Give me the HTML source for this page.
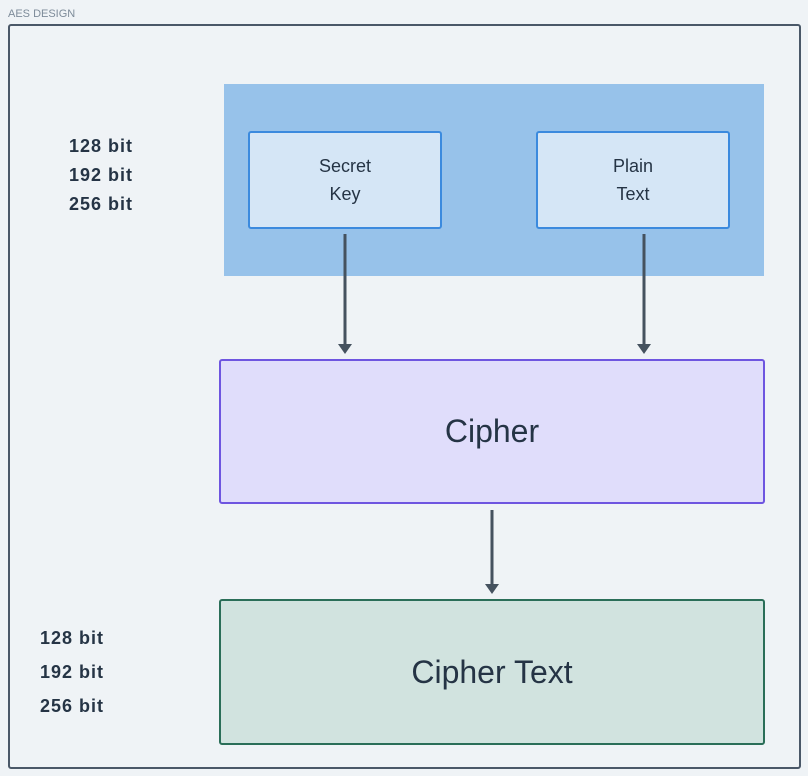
<!DOCTYPE html>
<html><head><style>
body{margin:0;width:808px;height:776px;background:#eff3f6;position:relative;overflow:hidden;font-family:"Liberation Sans","DejaVu Sans",sans-serif;color:#253445}
.a{position:absolute;box-sizing:border-box}
.t{display:flex;align-items:center;justify-content:center;text-align:center}
.bits{font-weight:bold;font-size:18px;line-height:29px;letter-spacing:1px}
</style></head><body>
<div class="a" style="left:8px;top:8px;font-size:11px;color:#7d8b99">AES DESIGN</div>
<div class="a" style="left:8px;top:24px;width:793px;height:745px;border:2px solid #4a5868;border-radius:3px"></div>
<div class="a" style="left:224px;top:84px;width:540px;height:192px;background:#97c2ea"></div>
<div class="a t" style="left:248px;top:131px;width:194px;height:98px;background:#d5e6f6;border:2px solid #3b8ade;border-radius:3px;font-size:18px;line-height:28px">Secret<br>Key</div>
<div class="a t" style="left:536px;top:131px;width:194px;height:98px;background:#d5e6f6;border:2px solid #3b8ade;border-radius:3px;font-size:18px;line-height:28px">Plain<br>Text</div>
<div class="a bits" style="left:69px;top:132px">128 bit<br>192 bit<br>256 bit</div>
<div class="a t" style="left:219px;top:359px;width:546px;height:145px;background:#e0ddfb;border:2px solid #6e55e0;border-radius:3px;font-size:32px">Cipher</div>
<div class="a t" style="left:219px;top:599px;width:546px;height:146px;background:#d1e3df;border:2px solid #2a6e58;border-radius:3px;font-size:32px">Cipher Text</div>
<div class="a bits" style="left:40px;top:621px;line-height:34px">128 bit<br>192 bit<br>256 bit</div>
<svg class="a" style="left:0;top:0" width="808" height="776">
<g stroke="#45525f" stroke-width="3"><line x1="345" y1="234" x2="345" y2="345"/><line x1="644" y1="234" x2="644" y2="345"/><line x1="492" y1="510" x2="492" y2="585"/></g>
<g fill="#45525f"><polygon points="338,344 352,344 345,354"/><polygon points="637,344 651,344 644,354"/><polygon points="485,584 499,584 492,594"/></g>
</svg>
</body></html>
